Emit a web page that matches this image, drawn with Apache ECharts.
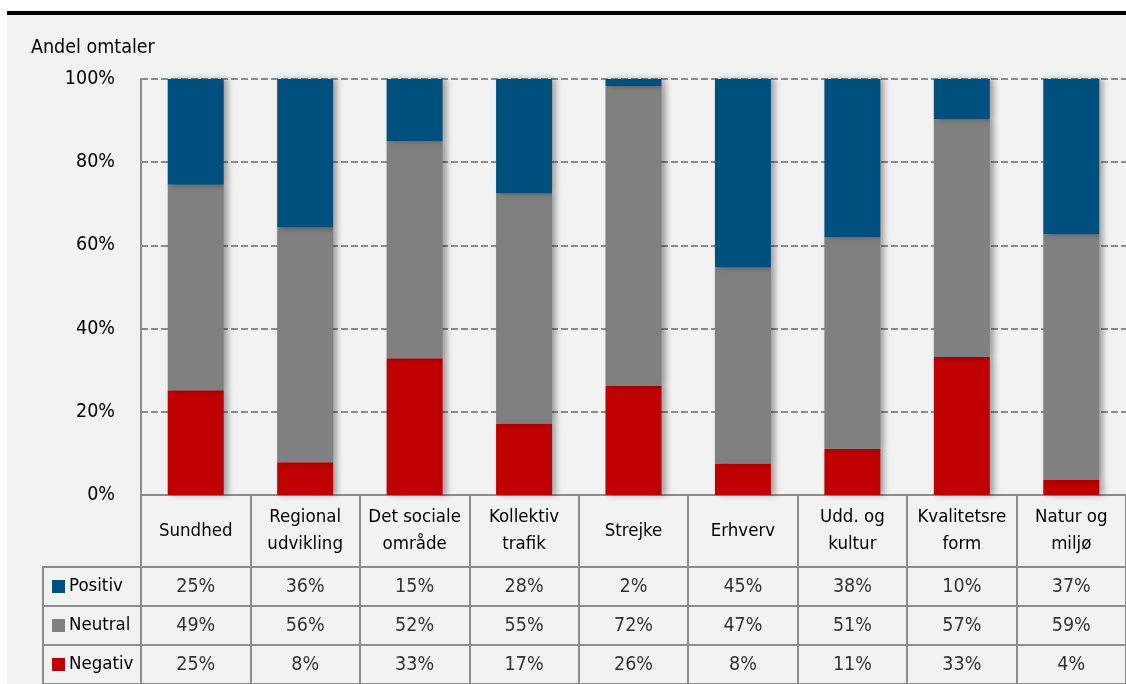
<!DOCTYPE html>
<html>
<head>
<meta charset="utf-8">
<script src="https://cdn.jsdelivr.net/npm/echarts@6/dist/echarts.min.js"></script>
<style>
  html, body { margin: 0; padding: 0; background: #ffffff; }
  #bg { position: absolute; left: 7px; top: 15px; width: 1119px; height: 669px; background: #f2f2f2; }
  #topline { position: absolute; left: 7px; top: 11px; width: 1119px; height: 4px; background: #000; }
  #main { position: absolute; left: 0; top: 0; width: 1126px; height: 684px; }
</style>
</head>
<body>
<div id="bg"></div>
<div id="topline"></div>
<div id="main"></div>
<script>
// ---- data ----
const categories = ['Sundhed', 'Regional\nudvikling', 'Det sociale\nområde', 'Kollektiv\ntrafik', 'Strejke', 'Erhverv', 'Udd. og\nkultur', 'Kvalitetsre\nform', 'Natur og\nmiljø'];
const seriesNames = ['Positiv', 'Neutral', 'Negativ'];
const positiv = [25.4, 35.7, 14.9, 27.5, 1.7, 45.3, 38.0, 9.6, 37.3];
const neutral = [49.4, 56.4, 52.2, 55.3, 72.1, 47.1, 50.9, 57.2, 59.1];
const negativ = [25.2, 7.9, 32.9, 17.2, 26.2, 7.6, 11.1, 33.2, 3.6];
const yTicks = [0, 20, 40, 60, 80, 100];

const colors = { Positiv: '#00507f', Neutral: '#808080', Negativ: '#c00000' };
const FONT = "'Liberation Sans Narrow', 'Arial Narrow', 'DejaVu Sans Condensed', sans-serif";
const FS = 18.5;
const lineCol = '#8c8c8c';

const valuesByName = { Positiv: positiv, Neutral: neutral, Negativ: negativ };

// table cells built from the same data
const tableData = [];
seriesNames.forEach(function (name) {
  valuesByName[name].forEach(function (v, i) {
    tableData.push([categories[i], name, Math.round(v) + '%']);
  });
});

const shadow = { shadowColor: 'rgba(0,0,0,0.35)', shadowBlur: 6, shadowOffsetX: 4, shadowOffsetY: 0 };

function barSeries(name) {
  return {
    name: name, type: 'bar', stack: 'total', xAxisIndex: 0, yAxisIndex: 0,
    barWidth: 56,
    itemStyle: Object.assign({ color: colors[name] }, shadow),
    data: valuesByName[name]
  };
}

const chart = echarts.init(document.getElementById('main'), null, { renderer: 'canvas' });
chart.setOption({
  animation: false,
  backgroundColor: 'transparent',
  textStyle: { fontFamily: FONT },
  title: {
    text: 'Andel omtaler', left: 31, top: 38, padding: 0,
    textStyle: { fontFamily: FONT, fontSize: 19.5, fontWeight: 'normal', color: '#000' }
  },
  grid: [
    { left: 141, top: 79, width: 990, height: 416 },
    { left: 141, top: 567, width: 990, height: 120 }
  ],
  xAxis: [
    {
      type: 'category', gridIndex: 0, data: categories,
      axisLine: { show: true, lineStyle: { color: lineCol, width: 2 } },
      axisTick: { show: true, interval: 0, length: 72, lineStyle: { color: lineCol, width: 2 } },
      axisLabel: {
        interval: 0, margin: 36, verticalAlign: 'middle', color: '#000',
        fontFamily: FONT, fontSize: FS, lineHeight: 27
      },
      splitLine: { show: false }
    },
    {
      type: 'category', gridIndex: 1, data: categories, position: 'top',
      axisLine: { show: true, lineStyle: { color: lineCol, width: 2 } },
      axisTick: { show: false },
      axisLabel: { show: false },
      splitLine: { show: true, interval: 0, lineStyle: { color: lineCol, width: 2 } }
    }
  ],
  yAxis: [
    {
      type: 'value', gridIndex: 0, min: 0, max: 100, interval: 20,
      axisLine: { show: true, lineStyle: { color: lineCol, width: 2 } },
      axisTick: { show: false },
      axisLabel: {
        margin: 26, color: '#000', fontFamily: FONT, fontSize: 19.5,
        formatter: function (v) { return yTicks.indexOf(v) >= 0 ? v + '%' : ''; }
      },
      splitLine: { show: true, lineStyle: { color: lineCol, width: 2, type: [7, 3] } }
    },
    {
      type: 'category', gridIndex: 1, data: seriesNames, inverse: true,
      axisLine: { show: true, lineStyle: { color: lineCol, width: 2 } },
      axisTick: { show: true, interval: 0, length: 98, lineStyle: { color: lineCol, width: 2 } },
      splitLine: { show: true, interval: 0, lineStyle: { color: lineCol, width: 2 } },
      axisLabel: {
        interval: 0, margin: 89, align: 'left',
        formatter: function (name) { return '{sq' + name + '|}{t|' + name + '}'; },
        rich: {
          sqPositiv: { width: 13, height: 13, backgroundColor: colors.Positiv },
          sqNeutral: { width: 13, height: 13, backgroundColor: colors.Neutral },
          sqNegativ: { width: 13, height: 13, backgroundColor: colors.Negativ },
          t: { fontFamily: FONT, fontSize: FS, color: '#000', padding: [0, 0, 0, 4] }
        }
      }
    }
  ],
  graphic: [
    { type: 'line', shape: { x1: 43, y1: 566, x2: 43, y2: 690 }, style: { stroke: lineCol, lineWidth: 2 } }
  ],
  series: [
    barSeries('Negativ'),
    barSeries('Neutral'),
    barSeries('Positiv'),
    {
      type: 'scatter', xAxisIndex: 1, yAxisIndex: 1,
      symbolSize: 1, itemStyle: { color: 'transparent' },
      silent: true,
      label: {
        show: true, position: 'inside', color: '#000', fontFamily: FONT, fontSize: 19.5,
        formatter: function (p) { return p.data[2]; }
      },
      data: tableData
    }
  ]
});
</script>
</body>
</html>
